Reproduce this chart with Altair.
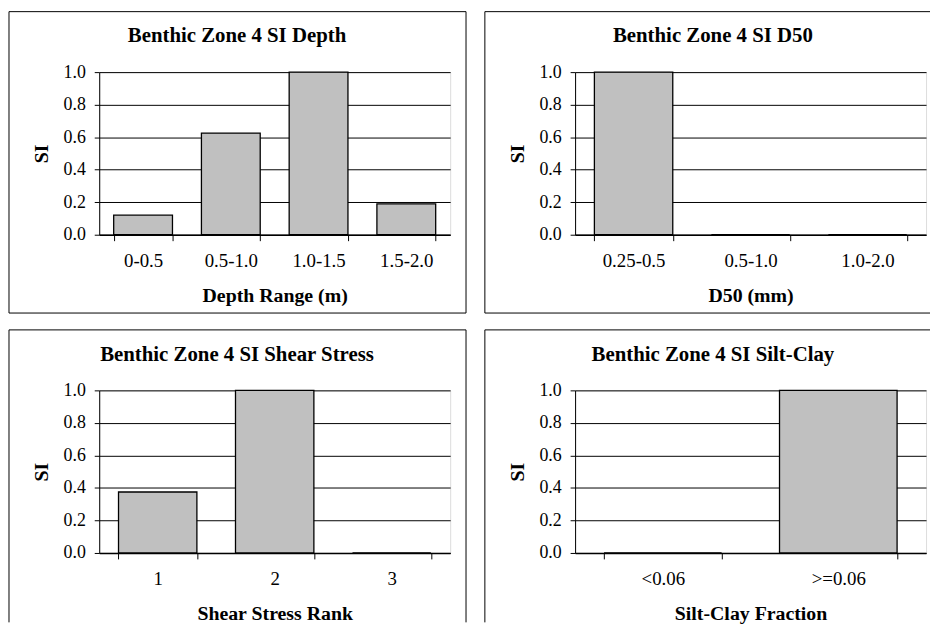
import altair as alt
import pandas as pd

FONT = "Liberation Serif"

# ---- data ----
depth_cats = ["0-0.5", "0.5-1.0", "1.0-1.5", "1.5-2.0"]
depth_si = [0.12, 0.625, 1.0, 0.19]

d50_cats = ["0.25-0.5", "0.5-1.0", "1.0-2.0"]
d50_si = [1.0, 0.0, 0.0]

shear_cats = ["1", "2", "3"]
shear_si = [0.375, 1.0, 0.0]

silt_cats = ["<0.06", ">=0.06"]
silt_si = [0.0, 1.0]

panel_titles = [
    "Benthic Zone 4 SI Depth",
    "Benthic Zone 4 SI D50",
    "Benthic Zone 4 SI Shear Stress",
    "Benthic Zone 4 SI Silt-Clay",
]
x_titles = ["Depth Range (m)", "D50 (mm)", "Shear Stress Rank", "Silt-Clay Fraction"]
y_ticks = [0.0, 0.2, 0.4, 0.6, 0.8, 1.0]

W, H = 354, 164
ONE = pd.DataFrame({"k": [0]})


def rule_h(x1, x2, y):
    return alt.Chart(ONE).mark_rule(color="black", strokeWidth=1).encode(
        x=alt.value(x1), x2=alt.value(x2), y=alt.value(y)
    )


def rule_v(x, y1, y2):
    return alt.Chart(ONE).mark_rule(color="black", strokeWidth=1).encode(
        x=alt.value(x), y=alt.value(y1), y2=alt.value(y2)
    )


def panel(cats, vals, title, xtitle, right_open, bottom_open):
    df = pd.DataFrame({"cat": cats, "si": vals})
    bars = alt.Chart(df).mark_bar(
        fill="#c0c0c0", stroke="black", strokeWidth=1.3
    ).encode(
        x=alt.X(
            "cat:N",
            sort=cats,
            scale=alt.Scale(paddingInner=0.33, paddingOuter=0.165),
            axis=alt.Axis(
                title=xtitle,
                tickBand="extent",
                labelAngle=0,
                tickSize=6,
                labelPadding=26,
                labelBaseline="alphabetic",
                labelFont=FONT,
                labelFontSize=19,
                labelColor="black",
                titleFont=FONT,
                titleFontSize=20,
                titleFontWeight="bold",
                titleColor="black",
                titleY=67,
                titleBaseline="alphabetic",
                grid=False,
                domainColor="black",
                domainWidth=1.5,
                tickColor="black",
            ),
        ),
        y=alt.Y(
            "si:Q",
            scale=alt.Scale(domain=[0, 1], nice=False),
            axis=alt.Axis(
                title="SI",
                values=y_ticks,
                format=".1f",
                tickSize=5,
                labelPadding=9,
                labelFont=FONT,
                labelFontSize=18,
                labelColor="black",
                titleFont=FONT,
                titleFontSize=20,
                titleFontWeight="bold",
                titleColor="black",
                titleAngle=270,
                titleX=-58,
                titleY=H / 2,
                titleAlign="center",
                titleBaseline="middle",
                grid=True,
                gridColor="black",
                gridWidth=1,
                domainColor="black",
                tickColor="black",
            ),
        ),
    )

    ttl = alt.Chart(ONE).mark_text(
        font=FONT, fontSize=21, fontWeight="bold", align="center",
        baseline="alphabetic", color="black"
    ).encode(x=alt.value(139), y=alt.value(-30), text=alt.value(title))

    L, T = -91, -61
    R = 358 if right_open else 370
    B = 234 if bottom_open else 243
    layers = [bars, ttl, rule_h(L, R, T), rule_v(L, T, B)]
    if not bottom_open:
        layers.append(rule_h(L, R, B))
    if not right_open:
        layers.append(rule_v(R, T, B))
    return alt.layer(*layers).properties(width=W, height=H)


p1 = panel(depth_cats, depth_si, panel_titles[0], x_titles[0], False, False)
p2 = panel(d50_cats, d50_si, panel_titles[1], x_titles[1], True, False)
p3 = panel(shear_cats, shear_si, panel_titles[2], x_titles[2], False, True)
p4 = panel(silt_cats, silt_si, panel_titles[3], x_titles[3], True, True)

chart = alt.concat(
    p1, p2, p3, p4,
    columns=2,
    spacing={"row": 157, "column": 126},
    bounds="flush",
).properties(padding=0).configure_view(
    stroke="black", strokeWidth=1
).configure(background="white")

chart.save("out.html", embed_options={"renderer": "svg", "actions": False})
